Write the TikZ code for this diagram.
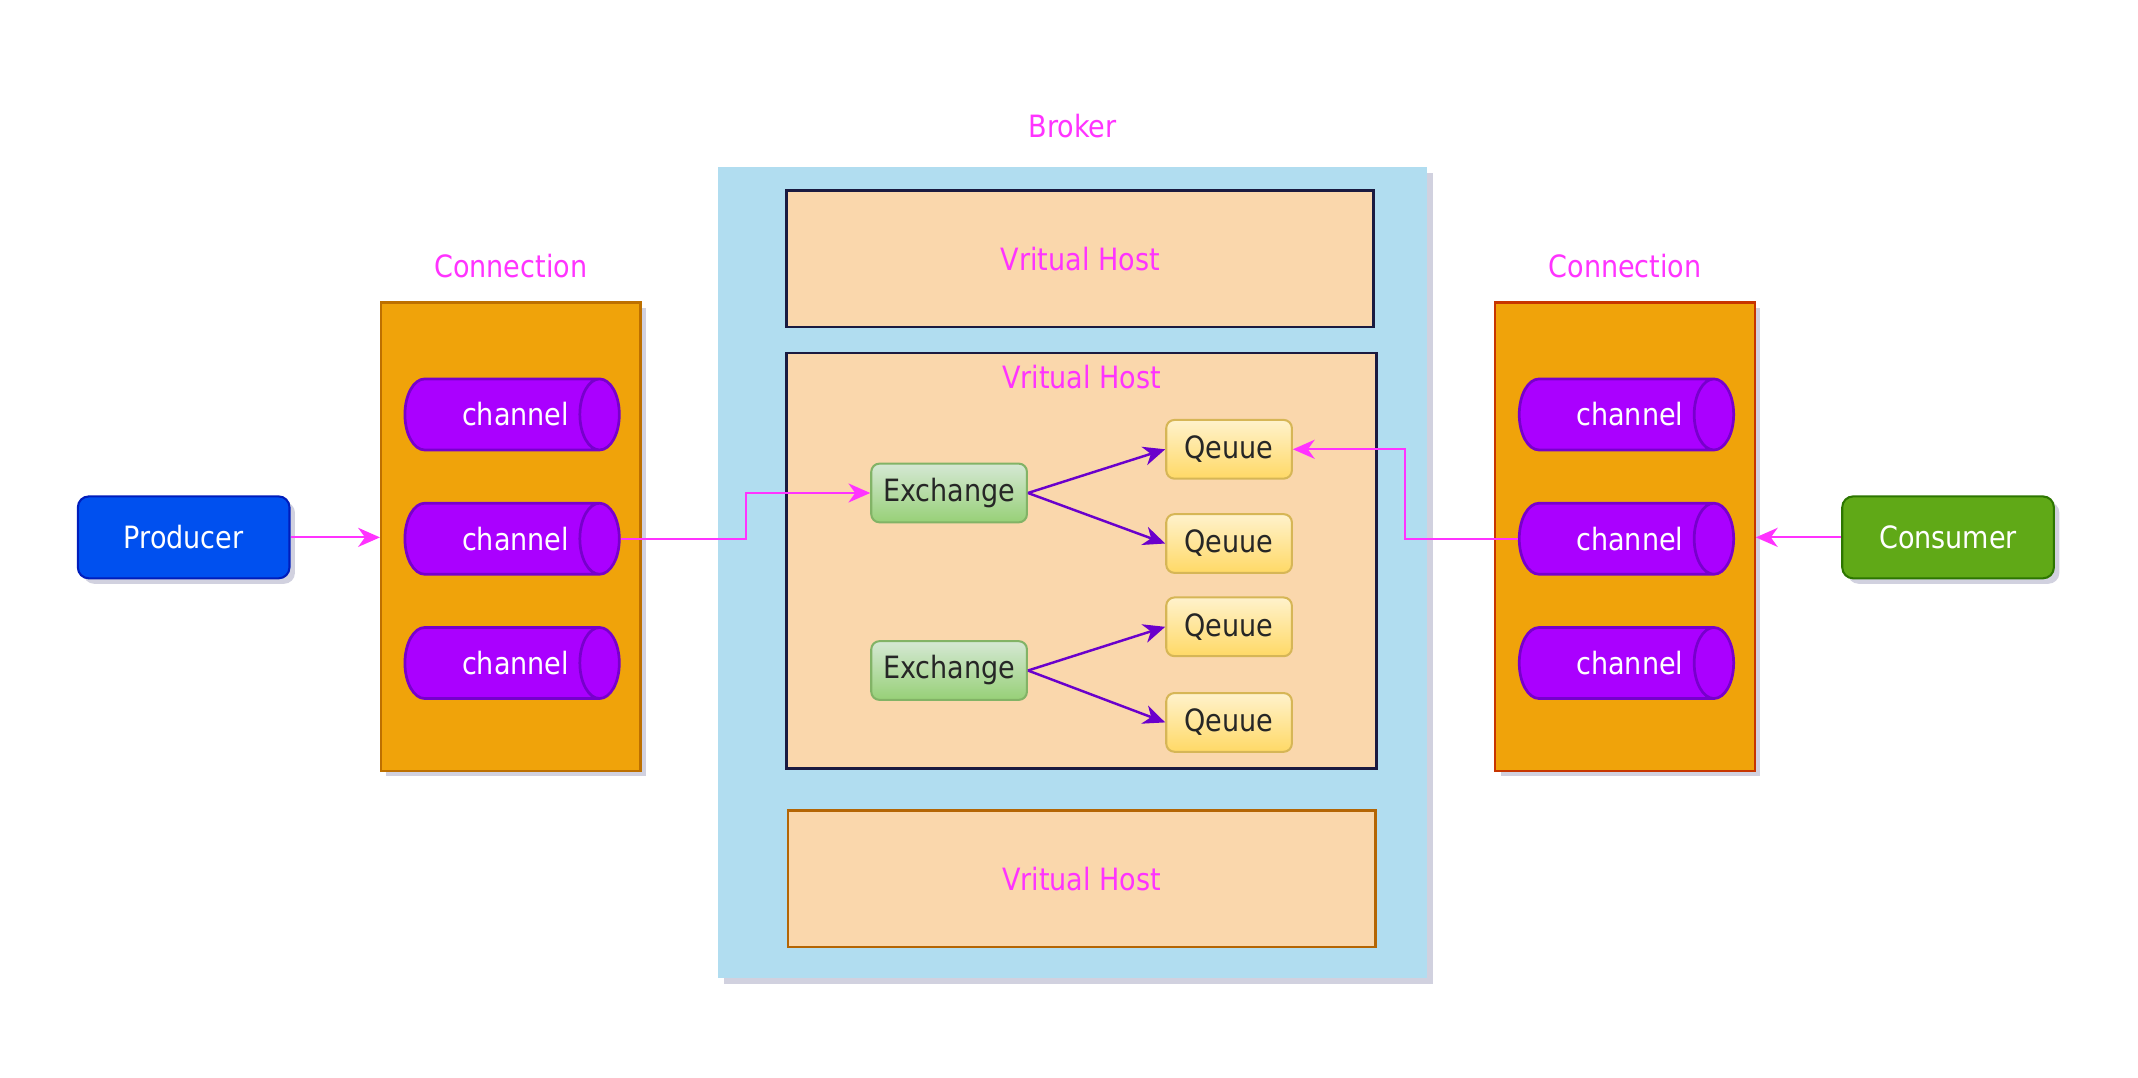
\documentclass[tikz,border=0pt]{standalone}
\usepackage{fontspec}
\setmainfont{DejaVu Sans}[FakeStretch=0.88]
\usetikzlibrary{shapes.geometric,arrows.meta,shadows,positioning}

\definecolor{pinktxt}{HTML}{FF33FF}
\definecolor{brokerfill}{HTML}{B1DDF0}
\definecolor{vhfill}{HTML}{FAD7AC}
\definecolor{vhline}{HTML}{1A1A40}
\definecolor{vhline2}{HTML}{B46504}
\definecolor{connfill}{HTML}{F0A30A}
\definecolor{connline}{HTML}{BD7000}
\definecolor{connline2}{HTML}{C73500}
\definecolor{chanfill}{HTML}{AA00FF}
\definecolor{chanline}{HTML}{7700CC}
\definecolor{prodfill}{HTML}{0050EF}
\definecolor{prodline}{HTML}{001DBC}
\definecolor{consfill}{HTML}{60A917}
\definecolor{consline}{HTML}{2D7600}
\definecolor{extop}{HTML}{D5E8D4}
\definecolor{exbot}{HTML}{97D077}
\definecolor{exline}{HTML}{82B366}
\definecolor{qtop}{HTML}{FFF2CC}
\definecolor{qbot}{HTML}{FFD966}
\definecolor{qline}{HTML}{D6B656}
\definecolor{routeline}{HTML}{6A00CC}

\tikzset{
  shade/.style={drop shadow={shadow xshift=4pt,shadow yshift=-4pt,opacity=.18,fill=black!70!blue}},
  label/.style={text=pinktxt},
  vhost/.style={draw=vhline,fill=vhfill,line width=2pt,inner sep=0pt,text=pinktxt},
  conn/.style={draw=connline,fill=connfill,line width=1.5pt,minimum width=190pt,minimum height=343pt,shade},
  chan/.style={cylinder,shape border rotate=0,shape aspect=1.35,draw=chanline,line width=2pt,
    cylinder uses custom fill,cylinder body fill=chanfill,cylinder end fill=chanfill,
    minimum width=52pt,minimum height=157pt,inner sep=2pt,text=white,
    execute at begin node=\hspace*{26pt}},
  actor/.style={rounded corners=8pt,line width=1.5pt,minimum width=155pt,minimum height=60pt,text=white,shade},
  exch/.style={draw=exline,top color=extop,bottom color=exbot,line width=1.5pt,
    rounded corners=6pt,minimum width=114pt,minimum height=43pt,inner sep=0pt,text=black!85},
  queue/.style={draw=qline,top color=qtop,bottom color=qbot,line width=1.5pt,
    rounded corners=6pt,minimum width=92pt,minimum height=43pt,inner sep=0pt,text=black!85},
  msg/.style={draw=pinktxt,line width=1.5pt,-{Stealth[length=16pt,width=14pt,inset=5pt]}},
  route/.style={draw=routeline,line width=1.8pt,-{Stealth[length=16pt,width=14pt,inset=5pt]}}
}

\begin{document}
\begin{tikzpicture}[x=1pt,y=-1pt,font=\fontsize{22.5}{27}\selectfont]
\useasboundingbox (1,0.5) rectangle (1566.6,789.3);

% broker and its virtual hosts
\node[fill=brokerfill,minimum width=519pt,minimum height=594pt,shade] (broker) at (786.5,420) {};
\node[label,above=18pt of broker] (brokerlbl) {Broker};
\node[vhost,minimum width=430pt,minimum height=100pt] (vh1) at (792,190) {Vritual Host};
\node[vhost,minimum width=432pt,minimum height=304pt] (vh2) at (793,411) {};
\node[label,below=6pt of vh2.north] (vh2lbl) {Vritual Host};
\node[vhost,draw=vhline2,minimum width=430pt,minimum height=100pt] (vh3) at (793,644) {Vritual Host};

% connections
\node[conn] (connL) at (375,393.5) {};
\node[conn,draw=connline2] (connR) at (1191,393.5) {};
\node[label,above=14pt of connL] (connLlbl) {Connection};
\node[label,above=14pt of connR] (connRlbl) {Connection};
\foreach \i/\y in {1/304,2/395,3/486} {
  \node[chan] (chL\i) at (365.5,\y) {channel};
  \node[chan] (chR\i) at (1181.5,\y) {channel};
}

% producer / consumer
\node[actor,draw=prodline,fill=prodfill] (prod) at (135.5,394) {Producer};
\node[actor,draw=consline,fill=consfill] (cons) at (1427.5,394) {Consumer};

% exchanges and queues
\node[exch] (ex1) at (696,361.5) {Exchange};
\node[exch] (ex2) at (696,491.5) {Exchange};
\node[queue] (q1) at (901,329.5) {Qeuue};
\node[queue] (q2) at (901,398.5) {Qeuue};
\node[queue] (q3) at (901,459.5) {Qeuue};
\node[queue] (q4) at (901,529.5) {Qeuue};

% arrows
\draw[msg] (prod.east) -- (prod.east -| connL.west);
\draw[msg] (chL2.east) -- ++(92,0) |- (ex1.west);
\draw[msg] (cons.west) -- (cons.west -| connR.east);
\draw[msg] (chR2.west) -- ++(-83,0) |- (q1.east);
\draw[route] (ex1.east) -- (q1.west);
\draw[route] (ex1.east) -- (q2.west);
\draw[route] (ex2.east) -- (q3.west);
\draw[route] (ex2.east) -- (q4.west);
\end{tikzpicture}
\end{document}
